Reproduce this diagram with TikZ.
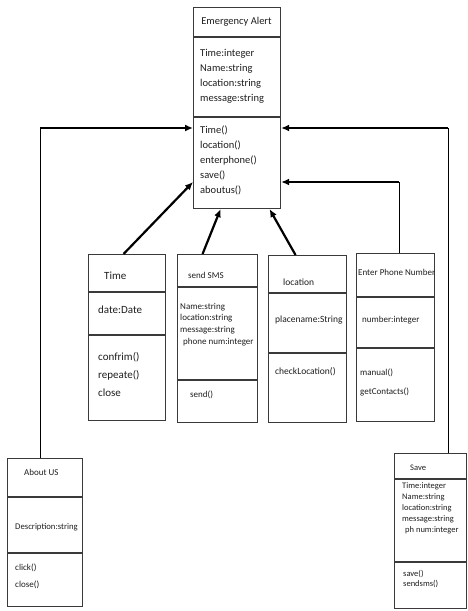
\documentclass[tikz,border=0pt]{standalone}
\usepackage{fontspec}
\setmainfont{Carlito}
\usetikzlibrary{arrows.meta}
\definecolor{boxline}{HTML}{3A3A3A}
\definecolor{ink}{HTML}{1E1E1E}
\begin{document}
\begin{tikzpicture}[x=1pt,y=-1pt,
  umlbox/.style={draw=boxline, line width=1.1pt, anchor=north west, inner sep=0pt},
  divider/.style={draw=boxline, line width=1.1pt},
  txt/.style={anchor=west, align=left, inner sep=0pt, text=ink},
  ttl/.style={anchor=center, inner sep=0pt, text=ink},
  thinline/.style={draw=black, line width=0.8pt},
  assoc/.style={draw=black, line width=2.2pt, -{Latex[length=8pt,width=7pt]}}]
\useasboundingbox (0,0) rectangle (467,611);

% ---- class boxes ----
\node[umlbox, minimum width=87pt, minimum height=201pt] (ea) at (193,7) {};
\node[umlbox, minimum width=77pt, minimum height=166pt] (time) at (88,254) {};
\node[umlbox, minimum width=80pt, minimum height=168pt] (sms) at (177,254) {};
\node[umlbox, minimum width=78pt, minimum height=167pt] (loc) at (268,255) {};
\node[umlbox, minimum width=78pt, minimum height=168pt] (phone) at (356,253) {};
\node[umlbox, minimum width=75pt, minimum height=148pt] (about) at (7,458) {};
\node[umlbox, minimum width=72pt, minimum height=155pt] (save) at (394,453) {};

% ---- compartment dividers ----
\draw[divider] (ea.west |- 0,37) -- (ea.east |- 0,37);
\draw[divider] (ea.west |- 0,117) -- (ea.east |- 0,117);
\draw[divider] (time.west |- 0,292) -- (time.east |- 0,292);
\draw[divider] (time.west |- 0,335) -- (time.east |- 0,335);
\draw[divider] (sms.west |- 0,287) -- (sms.east |- 0,287);
\draw[divider] (sms.west |- 0,380) -- (sms.east |- 0,380);
\draw[divider] (loc.west |- 0,293) -- (loc.east |- 0,293);
\draw[divider] (loc.west |- 0,353) -- (loc.east |- 0,353);
\draw[divider] (phone.west |- 0,297) -- (phone.east |- 0,297);
\draw[divider] (phone.west |- 0,348) -- (phone.east |- 0,348);
\draw[divider] (about.west |- 0,497) -- (about.east |- 0,497);
\draw[divider] (about.west |- 0,553) -- (about.east |- 0,553);
\draw[divider] (save.west |- 0,479) -- (save.east |- 0,479);
\draw[divider] (save.west |- 0,562) -- (save.east |- 0,562);

% ---- Emergency Alert ----
\node[ttl, font=\fontsize{10.5}{15}\selectfont] (eaT) at (236.5,22) {Emergency Alert};
\node[txt, font=\fontsize{10.5}{15}\selectfont] (eaA) at (200,76)
  {Time:integer\\Name:string\\location:string\\message:string};
\node[txt, font=\fontsize{10.5}{15}\selectfont] (eaM) at (200,160)
  {Time()\\location()\\enterphone()\\save()\\aboutus()};

% ---- Time ----
\node[txt, font=\fontsize{11}{18}\selectfont] (timeT) at (104,276) {Time};
\node[txt, font=\fontsize{11}{18}\selectfont] (timeA) at (98,310) {date:Date};
\node[txt, font=\fontsize{11}{18}\selectfont] (timeM) at (98,375)
  {confrim()\\repeate()\\close};

% ---- send SMS ----
\node[txt, font=\fontsize{9}{11.7}\selectfont] (smsT) at (188,275) {send SMS};
\node[txt, font=\fontsize{9}{11.7}\selectfont] (smsA) at (180,324.5)
  {Name:string\\location:string\\message:string\\\hspace{3pt}phone num:integer};
\node[txt, font=\fontsize{9}{11.7}\selectfont] (smsM) at (190,395) {send()};

% ---- location ----
\node[txt, font=\fontsize{9.5}{12}\selectfont] (locT) at (283,282) {location};
\node[txt, font=\fontsize{9.5}{12}\selectfont] (locA) at (275,320) {placename:String};
\node[txt, font=\fontsize{9.5}{12}\selectfont] (locM) at (275,372) {checkLocation()};

% ---- Enter Phone Number ----
\node[txt, font=\fontsize{9}{19}\selectfont] (phoneT) at (358,272) {Enter Phone Number};
\node[txt, font=\fontsize{9}{19}\selectfont] (phoneA) at (362,320) {number:integer};
\node[txt, font=\fontsize{9}{19}\selectfont] (phoneM) at (360,382.5)
  {manual()\\getContacts()};

% ---- About US ----
\node[txt, font=\fontsize{9}{17}\selectfont] (aboutT) at (24,472) {About US};
\node[txt, font=\fontsize{8.7}{17}\selectfont] (aboutA) at (15,527) {Description:string};
\node[txt, font=\fontsize{9}{17}\selectfont] (aboutM) at (15,576.5) {click()\\close()};

% ---- Save ----
\node[txt, font=\fontsize{8.5}{11}\selectfont] (saveT) at (410,468) {Save};
\node[txt, font=\fontsize{8.5}{11}\selectfont] (saveA) at (402,508)
  {Time:integer\\Name:string\\location:string\\message:string\\\hspace{3pt}ph num:integer};
\node[txt, font=\fontsize{8.5}{10.5}\selectfont] (saveM) at (403,579) {save()\\sendsms()};

% ---- connectors ----
\coordinate (lcorner) at (40,128);
\coordinate (rcorner) at (448,128);
\coordinate (pcorner) at (399,182);

\draw[thinline] (lcorner |- about.north) -- (lcorner);
\draw[assoc] (lcorner) -- (ea.west |- lcorner);

\draw[thinline] (rcorner |- save.north) -- (rcorner);
\draw[assoc] (rcorner) -- (ea.east |- rcorner);

\draw[thinline] (pcorner |- phone.north) -- (pcorner);
\draw[assoc] (pcorner) -- (ea.east |- pcorner);

\draw[assoc] ([xshift=-3.5pt]time.north) -- (ea.west |- pcorner);
\draw[assoc] ([xshift=-15pt]sms.north) -- ([xshift=-16.5pt]ea.south);
\draw[assoc] ([xshift=-12pt]loc.north) -- ([xshift=32.5pt]ea.south);
\end{tikzpicture}
\end{document}
